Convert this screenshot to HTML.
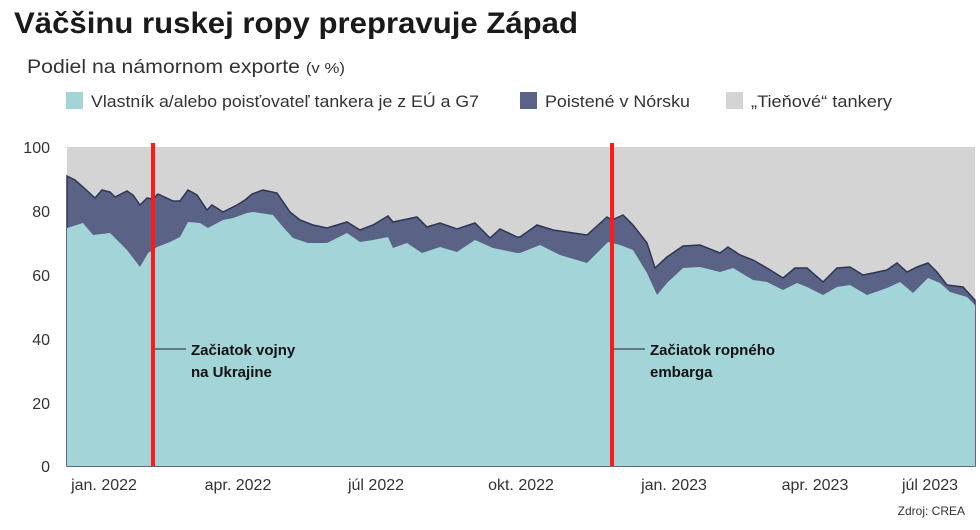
<!DOCTYPE html>
<html><head><meta charset="utf-8"><style>
body{margin:0;background:#fff;font-family:"Liberation Sans","DejaVu Sans",sans-serif;}
</style></head><body>
<svg width="980" height="525" xmlns="http://www.w3.org/2000/svg" font-family="Liberation Sans, DejaVu Sans, sans-serif">
<rect width="980" height="525" fill="#fff"/>
<text x="14" y="33" font-size="30" font-weight="bold" fill="#1a1a1a" textLength="564" lengthAdjust="spacingAndGlyphs">Väčšinu ruskej ropy prepravuje Západ</text>
<text x="27" y="73" font-size="19" fill="#333" textLength="318" lengthAdjust="spacingAndGlyphs">Podiel na námornom exporte <tspan font-size="15">(v %)</tspan></text>
<rect x="66" y="92" width="17" height="17" fill="#a3d4d8"/>
<text x="91" y="107" font-size="16.5" fill="#333" textLength="388" lengthAdjust="spacingAndGlyphs">Vlastník a/alebo poisťovateľ tankera  je z EÚ a G7</text>
<rect x="520" y="92" width="17" height="17" fill="#5a6285"/>
<text x="545" y="107" font-size="16.5" fill="#333" textLength="145" lengthAdjust="spacingAndGlyphs">Poistené v Nórsku</text>
<rect x="726" y="92" width="17" height="17" fill="#d4d4d4"/>
<text x="751" y="107" font-size="16.5" fill="#333" textLength="141" lengthAdjust="spacingAndGlyphs">„Tieňové“ tankery</text>
<rect x="67" y="147" width="908" height="319" fill="#d4d4d4"/>
<polygon fill="#5a6285" stroke="#2e3555" stroke-width="1.5" points="67,176 75,180 83,187 95,198 102,190 110,192 115,197 127,191 133,195 140,205 147,198 153,199 158,194 173,201 180,201 188,190 197,195 207,210 212,205 223,212 237,205 245,200 252,194 263,190 277,193 290,212 300,220 313,225 327,228 347,222 360,230 373,225 388,216 393,222 417,217 427,227 440,223 457,229 475,223 490,238 500,229 517,237 520,237 537,225 553,230 587,235 607,217 612,220 623,215 633,225 647,243 655,268 667,257 683,246 700,245 720,253 728,247 740,255 753,260 767,268 783,278 795,268 807,268 823,282 837,268 850,267 863,275 873,273 887,270 897,263 907,272 917,267 928,263 937,272 947,285 963,287 973,298 975,300 975,466 67,466"/>
<polygon fill="#a3d4d8" points="67,228 83,223 93,235 110,233 127,250 140,267 148,253 157,247 170,242 180,237 188,222 200,223 208,228 223,220 233,218 247,213 253,212 273,215 283,227 293,238 308,243 327,243 347,233 360,242 373,240 388,237 393,248 407,243 422,253 440,247 457,252 475,240 493,248 517,253 520,253 540,245 560,255 587,263 608,242 620,245 633,250 647,273 657,295 667,283 683,268 700,267 720,272 733,268 753,280 767,282 783,290 797,283 807,287 823,295 837,287 850,285 867,295 887,288 900,282 913,293 928,278 940,283 950,292 967,297 973,303 975,305 975,466 67,466"/>
<g font-size="16" fill="#333" text-anchor="end">
<text x="50" y="153">100</text><text x="50" y="217">80</text><text x="50" y="281">60</text><text x="50" y="345">40</text><text x="50" y="409">20</text><text x="50" y="472">0</text>
</g>
<g font-size="16" fill="#333" text-anchor="middle">
<text x="104" y="490">jan. 2022</text><text x="238" y="490">apr. 2022</text><text x="376" y="490">júl 2022</text><text x="521" y="490">okt. 2022</text><text x="674" y="490">jan. 2023</text><text x="815" y="490">apr. 2023</text><text x="930" y="490">júl 2023</text>
</g>
<text x="965" y="515" font-size="12" fill="#333" text-anchor="end">Zdroj: CREA</text>
<rect x="151" y="143" width="4" height="323" fill="#ff1a1a"/>
<rect x="610" y="143" width="4" height="323" fill="#ff1a1a"/>
<line x1="155" y1="349" x2="186" y2="349" stroke="#222" stroke-width="1"/>
<line x1="614" y1="349" x2="645" y2="349" stroke="#222" stroke-width="1"/>
<g font-size="15" font-weight="bold" fill="#111">
<text x="191" y="355">Začiatok vojny</text><text x="191" y="377">na Ukrajine</text>
<text x="650" y="355">Začiatok ropného</text><text x="650" y="377">embarga</text>
</g>
</svg>
</body></html>
